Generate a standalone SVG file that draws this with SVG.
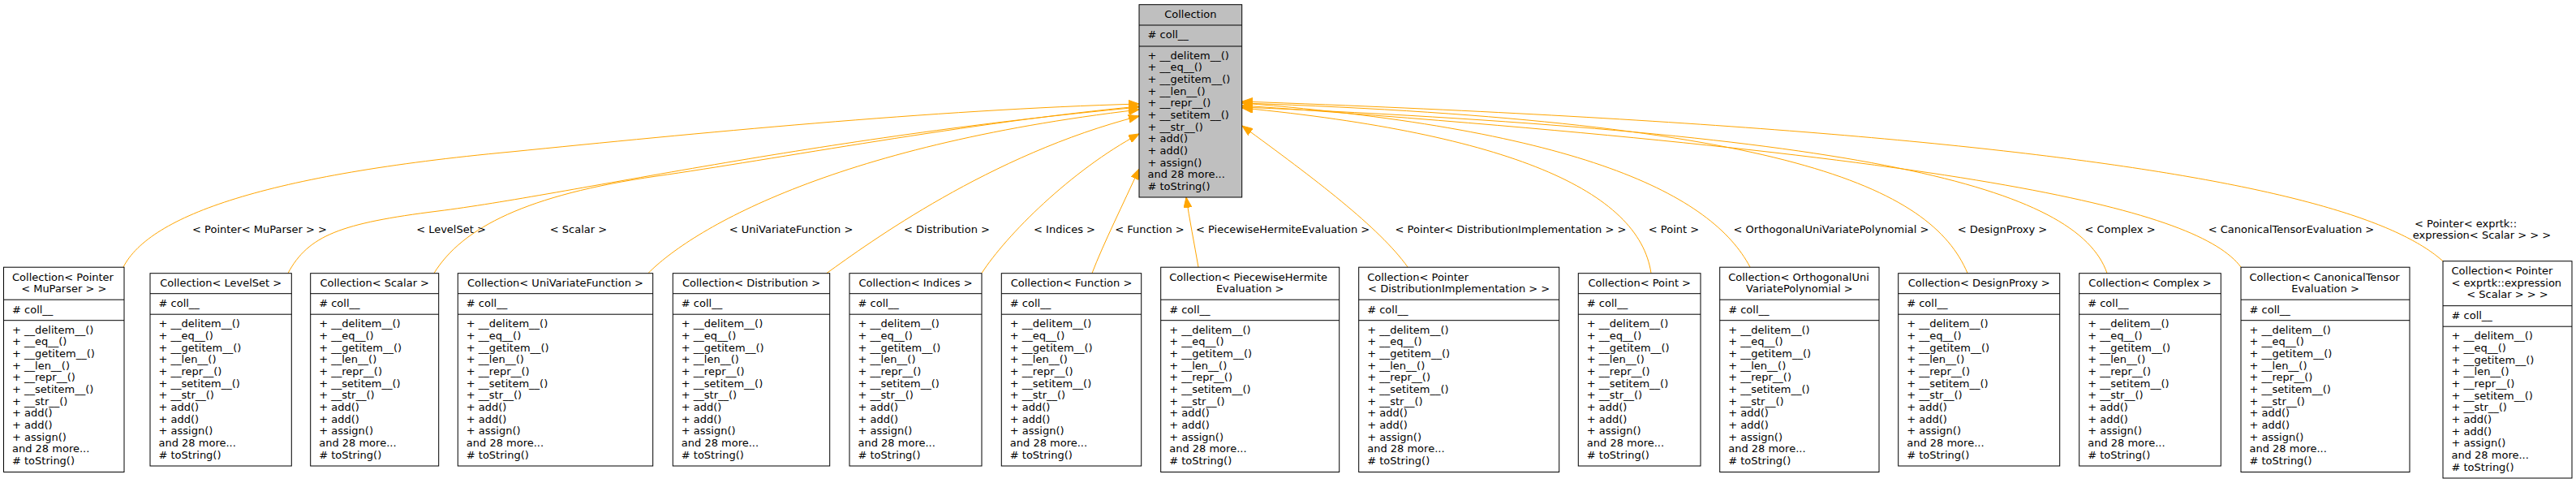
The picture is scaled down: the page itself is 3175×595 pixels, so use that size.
<svg xmlns="http://www.w3.org/2000/svg" width="3175" height="595" viewBox="0 0 3175 595">
<style>
text{font-family:"DejaVu Sans","Liberation Sans",sans-serif;font-size:13px;fill:#000}
.c{text-anchor:middle}
.box{fill:#fff;stroke:#000;stroke-width:1}
.root .box{fill:#bfbfbf}
.sep{stroke:#000;stroke-width:1}
.edges path{fill:none;stroke:#ffa500;stroke-width:1;marker-end:url(#arr)}
</style>
<defs>
<marker id="arr" viewBox="0 0 13 10" refX="13" refY="5" markerWidth="13" markerHeight="10" markerUnits="userSpaceOnUse" orient="auto"><path d="M0,0 L13,5 L0,10 z" fill="#ffa500" stroke="#ffa500" stroke-width="1"/></marker>
</defs>
<rect width="3175" height="595" fill="#fff"/>

<g class="edges" id="edges">
<path d="M152,329 C185,265 330,215 630,187 C850,165 1150,135 1404,128"/>
<path d="M355,336.5 C380,290 420,275 540,260 C700,240 1000,170 1404,132"/>
<path d="M535,336.5 C570,280 650,240 809,217 C950,197 1200,150 1404,131"/>
<path d="M799,336.5 C850,285 1020,180 1404,135"/>
<path d="M1019,336.5 C1070,300 1220,190 1404,143"/>
<path d="M1210,336.5 C1240,290 1320,210 1404,165"/>
<path d="M1346,336.5 C1360,300 1385,250 1404,208"/>
<path d="M1477,329 C1472,300 1466,270 1462,243"/>
<path d="M1735,329 C1700,280 1620,220 1531,155"/>
<path d="M2035,336.5 C2020,235 1860,165 1531,133"/>
<path d="M2157,329 C2110,240 1950,160 1531,127"/>
<path d="M2425,336.5 C2380,230 2200,150 1531,127"/>
<path d="M2597,336.5 C2560,230 2300,165 1531,132"/>
<path d="M2762,329 C2710,260 2450,195 1531,130"/>
<path d="M3011,321.7 C2930,250 2650,165 1531,125"/>
<g id="edge-labels">
<text class="c" x="320" y="286.5">&lt; Pointer&lt; MuParser &gt; &gt;</text>
<text class="c" x="556" y="286.5">&lt; LevelSet &gt;</text>
<text class="c" x="713" y="286.5">&lt; Scalar &gt;</text>
<text class="c" x="975" y="286.5">&lt; UniVariateFunction &gt;</text>
<text class="c" x="1167" y="286.5">&lt; Distribution &gt;</text>
<text class="c" x="1312" y="286.5">&lt; Indices &gt;</text>
<text class="c" x="1417" y="286.5">&lt; Function &gt;</text>
<text x="1474" y="286.5">&lt; PiecewiseHermiteEvaluation &gt;</text>
<text class="c" x="1862" y="286.5">&lt; Pointer&lt; DistributionImplementation &gt; &gt;</text>
<text class="c" x="2063" y="286.5">&lt; Point &gt;</text>
<text class="c" x="2257" y="286.5">&lt; OrthogonalUniVariatePolynomial &gt;</text>
<text class="c" x="2468" y="286.5">&lt; DesignProxy &gt;</text>
<text class="c" x="2613" y="286.5">&lt; Complex &gt;</text>
<text class="c" x="2824" y="286.5">&lt; CanonicalTensorEvaluation &gt;</text>
<text x="2976" y="279.5">&lt; Pointer&lt; exprtk::</text>
<text class="c" x="3059" y="294">expression&lt; Scalar &gt; &gt; &gt;</text>
</g>
</g>

<g id="node-Collection" class="root">
<rect class="box" x="1404" y="5.7" width="126.7" height="237.3"/>
<line class="sep" x1="1404" y1="31" x2="1530.7" y2="31"/>
<line class="sep" x1="1404" y1="57" x2="1530.7" y2="57"/>
<text class="c" x="1467.3" y="22">Collection</text>
<text x="1414.5" y="47.2"># coll__</text>
<text x="1414.5" y="72.5"><tspan x="1414.5" dy="0">+ __delitem__()</tspan><tspan x="1414.5" dy="14.67">+ __eq__()</tspan><tspan x="1414.5" dy="14.67">+ __getitem__()</tspan><tspan x="1414.5" dy="14.67">+ __len__()</tspan><tspan x="1414.5" dy="14.67">+ __repr__()</tspan><tspan x="1414.5" dy="14.67">+ __setitem__()</tspan><tspan x="1414.5" dy="14.67">+ __str__()</tspan><tspan x="1414.5" dy="14.67">+ add()</tspan><tspan x="1414.5" dy="14.67">+ add()</tspan><tspan x="1414.5" dy="14.67">+ assign()</tspan><tspan x="1414.5" dy="14.67">and 28 more...</tspan><tspan x="1414.5" dy="14.67"># toString()</tspan></text>
</g>

<g id="node-MuParser">
<rect class="box" x="4.5" y="329.2" width="148.5" height="252.3"/>
<line class="sep" x1="4.5" y1="369.2" x2="153" y2="369.2"/>
<line class="sep" x1="4.5" y1="394.7" x2="153" y2="394.7"/>
<text x="15" y="345.5">Collection&lt; Pointer</text>
<text class="c" x="78.75" y="360.2">&lt; MuParser &gt; &gt;</text>
<text x="15" y="385.7"># coll__</text>
<text x="15" y="410.7"><tspan x="15" dy="0">+ __delitem__()</tspan><tspan x="15" dy="14.67">+ __eq__()</tspan><tspan x="15" dy="14.67">+ __getitem__()</tspan><tspan x="15" dy="14.67">+ __len__()</tspan><tspan x="15" dy="14.67">+ __repr__()</tspan><tspan x="15" dy="14.67">+ __setitem__()</tspan><tspan x="15" dy="14.67">+ __str__()</tspan><tspan x="15" dy="14.67">+ add()</tspan><tspan x="15" dy="14.67">+ add()</tspan><tspan x="15" dy="14.67">+ assign()</tspan><tspan x="15" dy="14.67">and 28 more...</tspan><tspan x="15" dy="14.67"># toString()</tspan></text>
</g>

<g id="node-LevelSet">
<rect class="box" x="185" y="336.7" width="174.3" height="237.3"/>
<line class="sep" x1="185" y1="361.7" x2="359.3" y2="361.7"/>
<line class="sep" x1="185" y1="387.2" x2="359.3" y2="387.2"/>
<text class="c" x="272.2" y="353">Collection&lt; LevelSet &gt;</text>
<text x="195.5" y="378.2"># coll__</text>
<text x="195.5" y="403.2"><tspan x="195.5" dy="0">+ __delitem__()</tspan><tspan x="195.5" dy="14.67">+ __eq__()</tspan><tspan x="195.5" dy="14.67">+ __getitem__()</tspan><tspan x="195.5" dy="14.67">+ __len__()</tspan><tspan x="195.5" dy="14.67">+ __repr__()</tspan><tspan x="195.5" dy="14.67">+ __setitem__()</tspan><tspan x="195.5" dy="14.67">+ __str__()</tspan><tspan x="195.5" dy="14.67">+ add()</tspan><tspan x="195.5" dy="14.67">+ add()</tspan><tspan x="195.5" dy="14.67">+ assign()</tspan><tspan x="195.5" dy="14.67">and 28 more...</tspan><tspan x="195.5" dy="14.67"># toString()</tspan></text>
</g>

<g id="node-Scalar">
<rect class="box" x="382.7" y="336.7" width="158" height="237.3"/>
<line class="sep" x1="382.7" y1="361.7" x2="540.7" y2="361.7"/>
<line class="sep" x1="382.7" y1="387.2" x2="540.7" y2="387.2"/>
<text class="c" x="461.7" y="353">Collection&lt; Scalar &gt;</text>
<text x="393.2" y="378.2"># coll__</text>
<text x="393.2" y="403.2"><tspan x="393.2" dy="0">+ __delitem__()</tspan><tspan x="393.2" dy="14.67">+ __eq__()</tspan><tspan x="393.2" dy="14.67">+ __getitem__()</tspan><tspan x="393.2" dy="14.67">+ __len__()</tspan><tspan x="393.2" dy="14.67">+ __repr__()</tspan><tspan x="393.2" dy="14.67">+ __setitem__()</tspan><tspan x="393.2" dy="14.67">+ __str__()</tspan><tspan x="393.2" dy="14.67">+ add()</tspan><tspan x="393.2" dy="14.67">+ add()</tspan><tspan x="393.2" dy="14.67">+ assign()</tspan><tspan x="393.2" dy="14.67">and 28 more...</tspan><tspan x="393.2" dy="14.67"># toString()</tspan></text>
</g>

<g id="node-UniVariateFunction">
<rect class="box" x="564.3" y="336.7" width="240.4" height="237.3"/>
<line class="sep" x1="564.3" y1="361.7" x2="804.7" y2="361.7"/>
<line class="sep" x1="564.3" y1="387.2" x2="804.7" y2="387.2"/>
<text class="c" x="684.5" y="353">Collection&lt; UniVariateFunction &gt;</text>
<text x="574.8" y="378.2"># coll__</text>
<text x="574.8" y="403.2"><tspan x="574.8" dy="0">+ __delitem__()</tspan><tspan x="574.8" dy="14.67">+ __eq__()</tspan><tspan x="574.8" dy="14.67">+ __getitem__()</tspan><tspan x="574.8" dy="14.67">+ __len__()</tspan><tspan x="574.8" dy="14.67">+ __repr__()</tspan><tspan x="574.8" dy="14.67">+ __setitem__()</tspan><tspan x="574.8" dy="14.67">+ __str__()</tspan><tspan x="574.8" dy="14.67">+ add()</tspan><tspan x="574.8" dy="14.67">+ add()</tspan><tspan x="574.8" dy="14.67">+ assign()</tspan><tspan x="574.8" dy="14.67">and 28 more...</tspan><tspan x="574.8" dy="14.67"># toString()</tspan></text>
</g>

<g id="node-Distribution">
<rect class="box" x="829.3" y="336.7" width="193.4" height="237.3"/>
<line class="sep" x1="829.3" y1="361.7" x2="1022.7" y2="361.7"/>
<line class="sep" x1="829.3" y1="387.2" x2="1022.7" y2="387.2"/>
<text class="c" x="926" y="353">Collection&lt; Distribution &gt;</text>
<text x="839.8" y="378.2"># coll__</text>
<text x="839.8" y="403.2"><tspan x="839.8" dy="0">+ __delitem__()</tspan><tspan x="839.8" dy="14.67">+ __eq__()</tspan><tspan x="839.8" dy="14.67">+ __getitem__()</tspan><tspan x="839.8" dy="14.67">+ __len__()</tspan><tspan x="839.8" dy="14.67">+ __repr__()</tspan><tspan x="839.8" dy="14.67">+ __setitem__()</tspan><tspan x="839.8" dy="14.67">+ __str__()</tspan><tspan x="839.8" dy="14.67">+ add()</tspan><tspan x="839.8" dy="14.67">+ add()</tspan><tspan x="839.8" dy="14.67">+ assign()</tspan><tspan x="839.8" dy="14.67">and 28 more...</tspan><tspan x="839.8" dy="14.67"># toString()</tspan></text>
</g>

<g id="node-Indices">
<rect class="box" x="1047" y="336.7" width="163" height="237.3"/>
<line class="sep" x1="1047" y1="361.7" x2="1210" y2="361.7"/>
<line class="sep" x1="1047" y1="387.2" x2="1210" y2="387.2"/>
<text class="c" x="1128.5" y="353">Collection&lt; Indices &gt;</text>
<text x="1057.5" y="378.2"># coll__</text>
<text x="1057.5" y="403.2"><tspan x="1057.5" dy="0">+ __delitem__()</tspan><tspan x="1057.5" dy="14.67">+ __eq__()</tspan><tspan x="1057.5" dy="14.67">+ __getitem__()</tspan><tspan x="1057.5" dy="14.67">+ __len__()</tspan><tspan x="1057.5" dy="14.67">+ __repr__()</tspan><tspan x="1057.5" dy="14.67">+ __setitem__()</tspan><tspan x="1057.5" dy="14.67">+ __str__()</tspan><tspan x="1057.5" dy="14.67">+ add()</tspan><tspan x="1057.5" dy="14.67">+ add()</tspan><tspan x="1057.5" dy="14.67">+ assign()</tspan><tspan x="1057.5" dy="14.67">and 28 more...</tspan><tspan x="1057.5" dy="14.67"># toString()</tspan></text>
</g>

<g id="node-Function">
<rect class="box" x="1234.3" y="336.7" width="172.4" height="237.3"/>
<line class="sep" x1="1234.3" y1="361.7" x2="1406.7" y2="361.7"/>
<line class="sep" x1="1234.3" y1="387.2" x2="1406.7" y2="387.2"/>
<text class="c" x="1320.5" y="353">Collection&lt; Function &gt;</text>
<text x="1244.8" y="378.2"># coll__</text>
<text x="1244.8" y="403.2"><tspan x="1244.8" dy="0">+ __delitem__()</tspan><tspan x="1244.8" dy="14.67">+ __eq__()</tspan><tspan x="1244.8" dy="14.67">+ __getitem__()</tspan><tspan x="1244.8" dy="14.67">+ __len__()</tspan><tspan x="1244.8" dy="14.67">+ __repr__()</tspan><tspan x="1244.8" dy="14.67">+ __setitem__()</tspan><tspan x="1244.8" dy="14.67">+ __str__()</tspan><tspan x="1244.8" dy="14.67">+ add()</tspan><tspan x="1244.8" dy="14.67">+ add()</tspan><tspan x="1244.8" dy="14.67">+ assign()</tspan><tspan x="1244.8" dy="14.67">and 28 more...</tspan><tspan x="1244.8" dy="14.67"># toString()</tspan></text>
</g>

<g id="node-PiecewiseHermiteEvaluation">
<rect class="box" x="1430.7" y="329.2" width="220" height="252.3"/>
<line class="sep" x1="1430.7" y1="369.2" x2="1650.7" y2="369.2"/>
<line class="sep" x1="1430.7" y1="394.7" x2="1650.7" y2="394.7"/>
<text x="1441.2" y="345.5">Collection&lt; PiecewiseHermite</text>
<text class="c" x="1540.7" y="360.2">Evaluation &gt;</text>
<text x="1441.2" y="385.7"># coll__</text>
<text x="1441.2" y="410.7"><tspan x="1441.2" dy="0">+ __delitem__()</tspan><tspan x="1441.2" dy="14.67">+ __eq__()</tspan><tspan x="1441.2" dy="14.67">+ __getitem__()</tspan><tspan x="1441.2" dy="14.67">+ __len__()</tspan><tspan x="1441.2" dy="14.67">+ __repr__()</tspan><tspan x="1441.2" dy="14.67">+ __setitem__()</tspan><tspan x="1441.2" dy="14.67">+ __str__()</tspan><tspan x="1441.2" dy="14.67">+ add()</tspan><tspan x="1441.2" dy="14.67">+ add()</tspan><tspan x="1441.2" dy="14.67">+ assign()</tspan><tspan x="1441.2" dy="14.67">and 28 more...</tspan><tspan x="1441.2" dy="14.67"># toString()</tspan></text>
</g>

<g id="node-DistributionImplementation">
<rect class="box" x="1674.7" y="329.2" width="247" height="252.3"/>
<line class="sep" x1="1674.7" y1="369.2" x2="1921.7" y2="369.2"/>
<line class="sep" x1="1674.7" y1="394.7" x2="1921.7" y2="394.7"/>
<text x="1685.2" y="345.5">Collection&lt; Pointer</text>
<text class="c" x="1798.2" y="360.2">&lt; DistributionImplementation &gt; &gt;</text>
<text x="1685.2" y="385.7"># coll__</text>
<text x="1685.2" y="410.7"><tspan x="1685.2" dy="0">+ __delitem__()</tspan><tspan x="1685.2" dy="14.67">+ __eq__()</tspan><tspan x="1685.2" dy="14.67">+ __getitem__()</tspan><tspan x="1685.2" dy="14.67">+ __len__()</tspan><tspan x="1685.2" dy="14.67">+ __repr__()</tspan><tspan x="1685.2" dy="14.67">+ __setitem__()</tspan><tspan x="1685.2" dy="14.67">+ __str__()</tspan><tspan x="1685.2" dy="14.67">+ add()</tspan><tspan x="1685.2" dy="14.67">+ add()</tspan><tspan x="1685.2" dy="14.67">+ assign()</tspan><tspan x="1685.2" dy="14.67">and 28 more...</tspan><tspan x="1685.2" dy="14.67"># toString()</tspan></text>
</g>

<g id="node-Point">
<rect class="box" x="1945.3" y="336.7" width="150.7" height="237.3"/>
<line class="sep" x1="1945.3" y1="361.7" x2="2096" y2="361.7"/>
<line class="sep" x1="1945.3" y1="387.2" x2="2096" y2="387.2"/>
<text class="c" x="2020.7" y="353">Collection&lt; Point &gt;</text>
<text x="1955.8" y="378.2"># coll__</text>
<text x="1955.8" y="403.2"><tspan x="1955.8" dy="0">+ __delitem__()</tspan><tspan x="1955.8" dy="14.67">+ __eq__()</tspan><tspan x="1955.8" dy="14.67">+ __getitem__()</tspan><tspan x="1955.8" dy="14.67">+ __len__()</tspan><tspan x="1955.8" dy="14.67">+ __repr__()</tspan><tspan x="1955.8" dy="14.67">+ __setitem__()</tspan><tspan x="1955.8" dy="14.67">+ __str__()</tspan><tspan x="1955.8" dy="14.67">+ add()</tspan><tspan x="1955.8" dy="14.67">+ add()</tspan><tspan x="1955.8" dy="14.67">+ assign()</tspan><tspan x="1955.8" dy="14.67">and 28 more...</tspan><tspan x="1955.8" dy="14.67"># toString()</tspan></text>
</g>

<g id="node-OrthogonalUniVariatePolynomial">
<rect class="box" x="2119.7" y="329.2" width="196.3" height="252.3"/>
<line class="sep" x1="2119.7" y1="369.2" x2="2316" y2="369.2"/>
<line class="sep" x1="2119.7" y1="394.7" x2="2316" y2="394.7"/>
<text x="2130.2" y="345.5">Collection&lt; OrthogonalUni</text>
<text class="c" x="2217.9" y="360.2">VariatePolynomial &gt;</text>
<text x="2130.2" y="385.7"># coll__</text>
<text x="2130.2" y="410.7"><tspan x="2130.2" dy="0">+ __delitem__()</tspan><tspan x="2130.2" dy="14.67">+ __eq__()</tspan><tspan x="2130.2" dy="14.67">+ __getitem__()</tspan><tspan x="2130.2" dy="14.67">+ __len__()</tspan><tspan x="2130.2" dy="14.67">+ __repr__()</tspan><tspan x="2130.2" dy="14.67">+ __setitem__()</tspan><tspan x="2130.2" dy="14.67">+ __str__()</tspan><tspan x="2130.2" dy="14.67">+ add()</tspan><tspan x="2130.2" dy="14.67">+ add()</tspan><tspan x="2130.2" dy="14.67">+ assign()</tspan><tspan x="2130.2" dy="14.67">and 28 more...</tspan><tspan x="2130.2" dy="14.67"># toString()</tspan></text>
</g>

<g id="node-DesignProxy">
<rect class="box" x="2339.7" y="336.7" width="199" height="237.3"/>
<line class="sep" x1="2339.7" y1="361.7" x2="2538.7" y2="361.7"/>
<line class="sep" x1="2339.7" y1="387.2" x2="2538.7" y2="387.2"/>
<text class="c" x="2439.2" y="353">Collection&lt; DesignProxy &gt;</text>
<text x="2350.2" y="378.2"># coll__</text>
<text x="2350.2" y="403.2"><tspan x="2350.2" dy="0">+ __delitem__()</tspan><tspan x="2350.2" dy="14.67">+ __eq__()</tspan><tspan x="2350.2" dy="14.67">+ __getitem__()</tspan><tspan x="2350.2" dy="14.67">+ __len__()</tspan><tspan x="2350.2" dy="14.67">+ __repr__()</tspan><tspan x="2350.2" dy="14.67">+ __setitem__()</tspan><tspan x="2350.2" dy="14.67">+ __str__()</tspan><tspan x="2350.2" dy="14.67">+ add()</tspan><tspan x="2350.2" dy="14.67">+ add()</tspan><tspan x="2350.2" dy="14.67">+ assign()</tspan><tspan x="2350.2" dy="14.67">and 28 more...</tspan><tspan x="2350.2" dy="14.67"># toString()</tspan></text>
</g>

<g id="node-Complex">
<rect class="box" x="2562.7" y="336.7" width="174.6" height="237.3"/>
<line class="sep" x1="2562.7" y1="361.7" x2="2737.3" y2="361.7"/>
<line class="sep" x1="2562.7" y1="387.2" x2="2737.3" y2="387.2"/>
<text class="c" x="2650" y="353">Collection&lt; Complex &gt;</text>
<text x="2573.2" y="378.2"># coll__</text>
<text x="2573.2" y="403.2"><tspan x="2573.2" dy="0">+ __delitem__()</tspan><tspan x="2573.2" dy="14.67">+ __eq__()</tspan><tspan x="2573.2" dy="14.67">+ __getitem__()</tspan><tspan x="2573.2" dy="14.67">+ __len__()</tspan><tspan x="2573.2" dy="14.67">+ __repr__()</tspan><tspan x="2573.2" dy="14.67">+ __setitem__()</tspan><tspan x="2573.2" dy="14.67">+ __str__()</tspan><tspan x="2573.2" dy="14.67">+ add()</tspan><tspan x="2573.2" dy="14.67">+ add()</tspan><tspan x="2573.2" dy="14.67">+ assign()</tspan><tspan x="2573.2" dy="14.67">and 28 more...</tspan><tspan x="2573.2" dy="14.67"># toString()</tspan></text>
</g>

<g id="node-CanonicalTensorEvaluation">
<rect class="box" x="2762" y="329.2" width="208" height="252.3"/>
<line class="sep" x1="2762" y1="369.2" x2="2970" y2="369.2"/>
<line class="sep" x1="2762" y1="394.7" x2="2970" y2="394.7"/>
<text x="2772.5" y="345.5">Collection&lt; CanonicalTensor</text>
<text class="c" x="2866" y="360.2">Evaluation &gt;</text>
<text x="2772.5" y="385.7"># coll__</text>
<text x="2772.5" y="410.7"><tspan x="2772.5" dy="0">+ __delitem__()</tspan><tspan x="2772.5" dy="14.67">+ __eq__()</tspan><tspan x="2772.5" dy="14.67">+ __getitem__()</tspan><tspan x="2772.5" dy="14.67">+ __len__()</tspan><tspan x="2772.5" dy="14.67">+ __repr__()</tspan><tspan x="2772.5" dy="14.67">+ __setitem__()</tspan><tspan x="2772.5" dy="14.67">+ __str__()</tspan><tspan x="2772.5" dy="14.67">+ add()</tspan><tspan x="2772.5" dy="14.67">+ add()</tspan><tspan x="2772.5" dy="14.67">+ assign()</tspan><tspan x="2772.5" dy="14.67">and 28 more...</tspan><tspan x="2772.5" dy="14.67"># toString()</tspan></text>
</g>

<g id="node-exprtk">
<rect class="box" x="3011" y="321.7" width="159" height="267.3"/>
<line class="sep" x1="3011" y1="376.7" x2="3170" y2="376.7"/>
<line class="sep" x1="3011" y1="402.2" x2="3170" y2="402.2"/>
<text x="3021.5" y="338">Collection&lt; Pointer</text>
<text x="3021.5" y="352.7">&lt; exprtk::expression</text>
<text class="c" x="3090.5" y="367.4">&lt; Scalar &gt; &gt; &gt;</text>
<text x="3021.5" y="393.2"># coll__</text>
<text x="3021.5" y="418.2"><tspan x="3021.5" dy="0">+ __delitem__()</tspan><tspan x="3021.5" dy="14.67">+ __eq__()</tspan><tspan x="3021.5" dy="14.67">+ __getitem__()</tspan><tspan x="3021.5" dy="14.67">+ __len__()</tspan><tspan x="3021.5" dy="14.67">+ __repr__()</tspan><tspan x="3021.5" dy="14.67">+ __setitem__()</tspan><tspan x="3021.5" dy="14.67">+ __str__()</tspan><tspan x="3021.5" dy="14.67">+ add()</tspan><tspan x="3021.5" dy="14.67">+ add()</tspan><tspan x="3021.5" dy="14.67">+ assign()</tspan><tspan x="3021.5" dy="14.67">and 28 more...</tspan><tspan x="3021.5" dy="14.67"># toString()</tspan></text>
</g>
</svg>
